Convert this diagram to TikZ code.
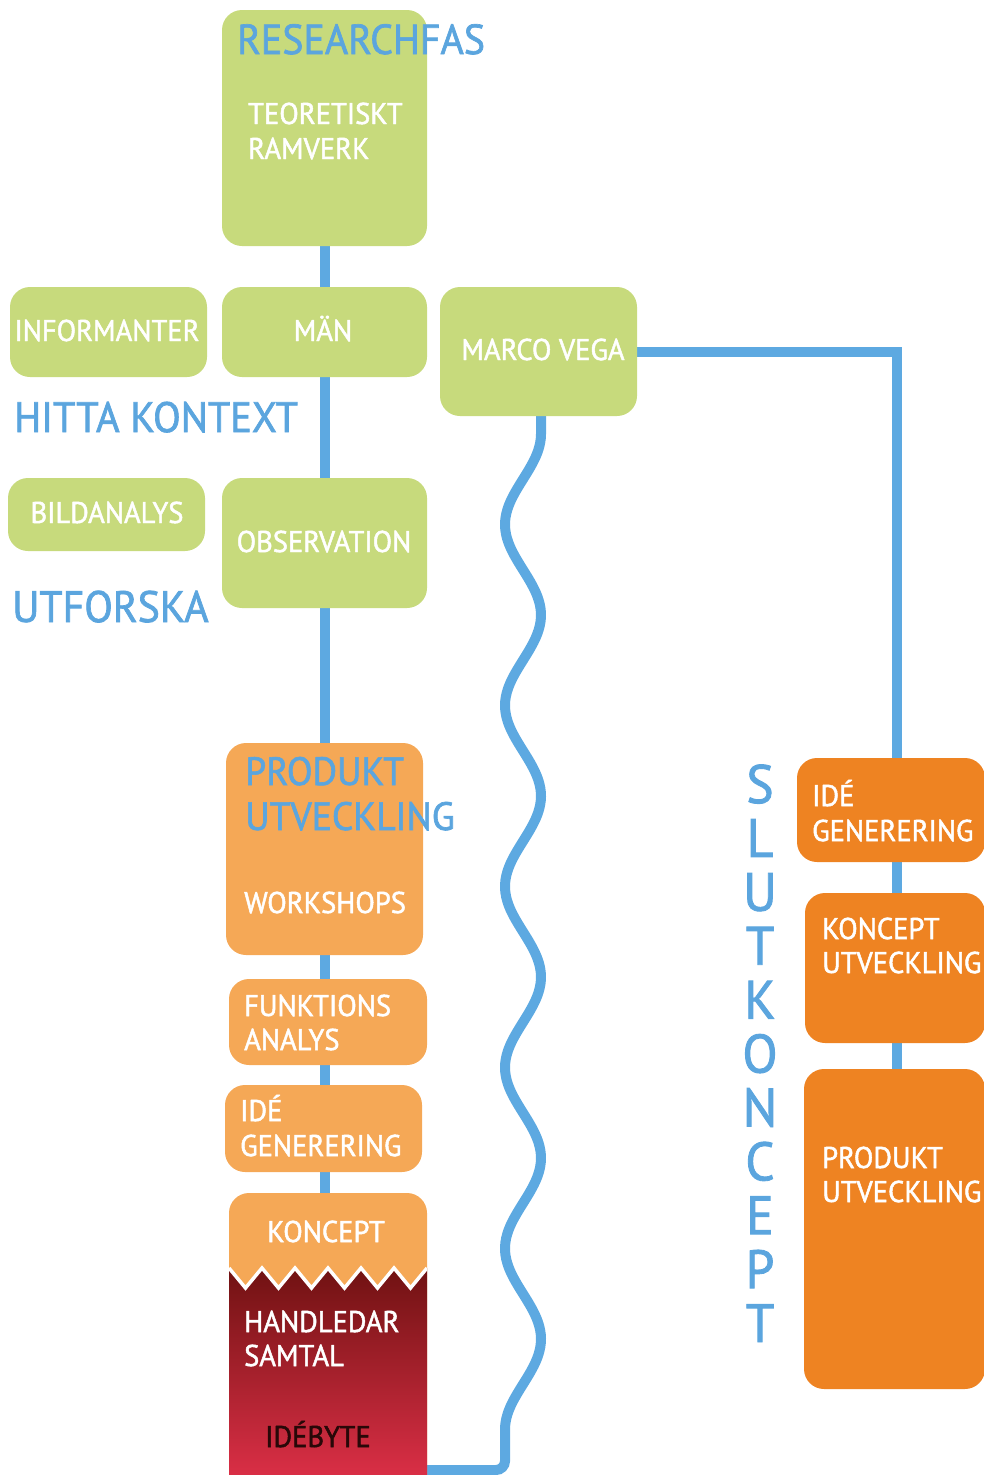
\documentclass[tikz,border=0pt]{standalone}
\usepackage{fontspec}
\setmainfont{PT Sans}[FakeStretch=0.95, FakeBold=1.6]
\usetikzlibrary{backgrounds}
\definecolor{lime}{RGB}{199,218,124}
\definecolor{lineblue}{RGB}{93,169,225}
\definecolor{headblue}{RGB}{91,165,222}
\definecolor{lorange}{RGB}{245,168,86}
\definecolor{dorange}{RGB}{238,131,34}
\definecolor{dred}{RGB}{112,18,18}
\definecolor{bred}{RGB}{230,50,76}
\definecolor{ink}{RGB}{40,8,8}
\tikzset{
  box/.style={rounded corners=20pt, inner sep=0pt, outer sep=0pt},
  wire/.style={draw=lineblue, line width=10pt},
  wt/.style={text=white, font=\fontsize{30}{35}\selectfont, inner sep=0pt},
  bt/.style={text=headblue, inner sep=0pt},
  bigbt/.style={bt, font=\fontsize{42.5}{52}\selectfont},
  midbt/.style={bt, font=\fontsize{39.5}{45}\selectfont},
}
\begin{document}
\begin{tikzpicture}[x=1pt,y=-1pt]
\useasboundingbox (0,0) rectangle (983,1475);
% boxes
\node[box, fill=lime, minimum width=205pt, minimum height=236pt] (teo) at (324.5,128) {};
\node[box, fill=lime, minimum width=197pt, minimum height=90pt] (inf) at (108.5,332) {};
\node[box, fill=lime, minimum width=205pt, minimum height=90pt] (man) at (324.5,332) {};
\node[box, fill=lime, minimum width=197pt, minimum height=129pt] (marco) at (538.5,351.5) {};
\node[box, fill=lime, minimum width=197pt, minimum height=73pt] (bild) at (106.5,514.5) {};
\node[box, fill=lime, minimum width=205pt, minimum height=130pt] (obs) at (324.5,543) {};
\node[box, fill=lorange, minimum width=197pt, minimum height=212pt] (prod) at (324.5,849) {};
\node[box, fill=lorange, minimum width=198pt, minimum height=86pt] (funk) at (328,1022) {};
\node[box, fill=lorange, minimum width=197pt, minimum height=87pt] (ide) at (323.5,1128.5) {};
\node[box, fill=lorange, minimum width=198pt, minimum height=307pt] (konc) at (328,1346.5) {};
\node[box, fill=dorange, minimum width=188pt, minimum height=104pt] (rid) at (891,810) {};
\node[box, fill=dorange, minimum width=180pt, minimum height=150pt] (rkon) at (895,968) {};
\node[box, fill=dorange, minimum width=181pt, minimum height=320pt] (rprod) at (894.5,1229) {};
% lower part of koncept box
\begin{scope}
  \clip[rounded corners=20pt] (konc.north west) rectangle (konc.south east);
  \shade[top color=dred, bottom color=bred] (229,1268)
    \foreach \k in {0,...,5} { -- ({245.5+33*\k},1288) -- ({262+33*\k},1268) }
    -- (427,1500) -- (229,1500) -- cycle;
  \draw[white, line width=3.5pt, line join=miter] (229,1268)
    \foreach \k in {0,...,5} { -- ({245.5+33*\k},1288) -- ({262+33*\k},1268) };
\end{scope}
% connectors
\coordinate (rtop) at (897,758);
\begin{scope}[on background layer]
  \draw[wire] (teo.south) -- (teo.south |- konc.north);
  \draw[wire] (marco.east) -| (rtop);
  \draw[wire] (rtop) -- (rtop |- rprod.north);
  \draw[wire] ([xshift=2.5pt]marco.south) -- (541,434)
    -- plot[variable=\t, domain=434:1430, samples=240, smooth] ({523+18*cos(((\t-434)/181)*360)},{\t})
    [rounded corners=9pt] -- (505,1470) -- (konc.east |- 0,1470);
\end{scope}
% texts
\node[bt, font=\fontsize{42}{48}\selectfont, anchor=base west] (researchfas) at (237,54) {RESEARCHFAS};
\node[wt, anchor=base west] (teo1) at (248,124) {TEORETISKT};
\node[wt, anchor=base west] (teo2) at (248,159) {RAMVERK};
\node[wt, anchor=base] (inft) at (107,341) {INFORMANTER};
\node[wt, anchor=base] (mant) at (323,341) {MÄN};
\node[wt, anchor=base] (marcot) at (543,360) {MARCO VEGA};
\node[bigbt, anchor=base west] (hitta) at (14,432) {HITTA KONTEXT};
\node[wt, anchor=base] (bildt) at (107,523) {BILDANALYS};
\node[wt, anchor=base] (obst) at (324,552) {OBSERVATION};
\node[bt, font=\fontsize{44}{52}\selectfont, anchor=base west] (utforska) at (12,622) {UTFORSKA};
\node[midbt, anchor=base west] (prod1) at (245,785) {PRODUKT};
\node[midbt, anchor=base west] (prod2) at (245,830) {UTVECKLING};
\node[wt, anchor=base west] (workshops) at (244,913) {WORKSHOPS};
\node[wt, anchor=base west] (funk1) at (244,1016) {FUNKTIONS};
\node[wt, anchor=base west] (funk2) at (244,1050) {ANALYS};
\node[wt, anchor=base west] (ide1) at (240,1121) {IDÉ};
\node[wt, anchor=base west] (ide2) at (240,1156) {GENERERING};
\node[wt, anchor=base] (koncept) at (326,1242) {KONCEPT};
\node[wt, anchor=base west] (hand1) at (244,1332) {HANDLEDAR};
\node[wt, anchor=base west] (hand2) at (244,1366) {SAMTAL};
\node[wt, text=ink, anchor=base] (idebyte) at (318,1447) {IDÉBYTE};
\node[wt, anchor=base west] (rid1) at (812,806) {IDÉ};
\node[wt, anchor=base west] (rid2) at (812,841) {GENERERING};
\node[wt, anchor=base west] (rkon1) at (822,939) {KONCEPT};
\node[wt, anchor=base west] (rkon2) at (822,973) {UTVECKLING};
\node[wt, anchor=base west] (rprod1) at (822,1168) {PRODUKT};
\node[wt, anchor=base west] (rprod2) at (822,1202) {UTVECKLING};
\foreach \l [count=\i from 0] in {S,L,U,T,K,O,N,C,E,P,T}
  \node[bt, font=\fontsize{54}{60}\selectfont, anchor=base] (sk\i) at (760,{803+53.9*\i}) {\l};
\end{tikzpicture}
\end{document}
